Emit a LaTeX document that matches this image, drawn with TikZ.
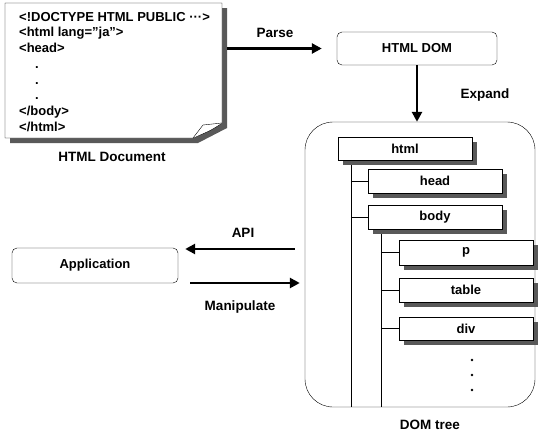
\documentclass[tikz,border=0pt]{standalone}
\usepackage{fontspec}
\setmainfont{Liberation Sans}
\usetikzlibrary{positioning, arrows.meta, backgrounds}

\tikzset{
  box/.style={draw, fill=white, inner sep=0pt, font=\fontsize{13}{15}\selectfont\bfseries},
  roundbox/.style={box, rounded corners=5pt},
  treebox/.style={box, minimum width=134pt, minimum height=24pt},
  shadowfill/.style={fill=black!65},
  lbl/.style={font=\fontsize{13.5}{16}\selectfont\bfseries},
  bigarrow/.style={-{Triangle[length=10pt,width=10pt]}, line width=2.8pt},
}

% a tree box with its shadow: name, x, y, height, text
\newcommand{\domnode}[5]{%
  \fill[shadowfill] (#2-62,#3-#4/2+5) rectangle (#2+72,#3+#4/2+5);
  \node[treebox, minimum height=#4pt] (#1) at (#2,#3) {#5};}

\begin{document}
\begin{tikzpicture}[x=1pt,y=-1pt]
    \useasboundingbox (0,0) rectangle (541,434);

    % the HTML document sheet with its folded corner
    \fill[shadowfill] (10,8) -- (227,8) -- (227,128) -- (198,143) -- (10,143) -- cycle; % shadow
    \draw[fill=white] (5,3) -- (222,3) -- (222,123) .. controls (212,130) .. (193,138) -- (5,138) -- cycle;
    \draw[fill=white] (193,138) -- (203,125) -- (222,123); % folded flap
    \node[inner sep=0, minimum width=217pt, minimum height=135pt] (doc) at (113.5,70.5) {};
    \node[anchor=north west, align=left, inner sep=0, font=\fontsize{13}{15.7}\selectfont\bfseries] (source) at (19,12)
      {<!DOCTYPE HTML PUBLIC ···>\\ <html lang="ja">\\ <head>\\ \hspace{16pt}.\\ \hspace{16pt}.\\ \hspace{16pt}.\\ </body>\\ </html>};
    \node[lbl] (doclabel) at (112,157) {HTML Document};

    % DOM objects
    \node[roundbox, minimum width=160pt, minimum height=33pt] (htmldom) at (417,48.5) {HTML DOM};
    \node[roundbox, minimum width=166pt, minimum height=35pt] (app) at (95,265.5) {Application};

    % the DOM tree
    \node[draw, rounded corners=28pt, minimum width=230pt, minimum height=285pt, inner sep=0] (tree) at (420,264.5) {};
    \domnode{html}{405}{148.5}{23}{html}
    \domnode{head}{435}{181}{24}{head}
    \domnode{body}{435}{217}{24}{body}
    \domnode{p}{466}{252.5}{25}{p}
    \domnode{table}{466}{290}{24}{table}
    \domnode{div}{466}{328.5}{23}{div}
    \foreach \y in {360,375,390} \fill (472,\y) circle (1.4pt); % more children
    \node[lbl] (treelabel) at (430,425) {DOM tree};

    \begin{scope}[on background layer]
      \coordinate (trunk) at ([xshift=13pt]html.south west);
      \coordinate (branch) at ([xshift=13pt]body.south west);
      \draw (trunk) -- (trunk |- tree.south); % children of html
      \draw (trunk |- head.west) -- (head.west);
      \draw (trunk |- body.west) -- (body.west);
      \draw (branch) -- (branch |- tree.south); % children of body
      \foreach \n in {p, table, div} \draw (branch |- \n.west) -- (\n.west);
    \end{scope}

    % arrows
    \draw[bigarrow, shorten <=5pt, shorten >=15pt] (doc.east |- htmldom.west) -- (htmldom.west); % parse
    \node[lbl] (parse) at (275,33) {Parse};
    \draw[bigarrow] (htmldom.south) -- (htmldom.south |- tree.north); % expand
    \node[lbl] (expand) at (485,95) {Expand};
    \draw[bigarrow, shorten <=10pt, shorten >=7pt] ([yshift=15.5pt]tree.west) -- ([yshift=15.5pt]tree.west -| app.east); % api
    \node[lbl] (api) at (243,233) {API};
    \draw[bigarrow, shorten <=12pt, shorten >=5pt] ([yshift=-18.5pt]tree.west -| app.east) -- ([yshift=-18.5pt]tree.west); % manipulate
    \node[lbl] (manipulate) at (240,307) {Manipulate};
\end{tikzpicture}
\end{document}
